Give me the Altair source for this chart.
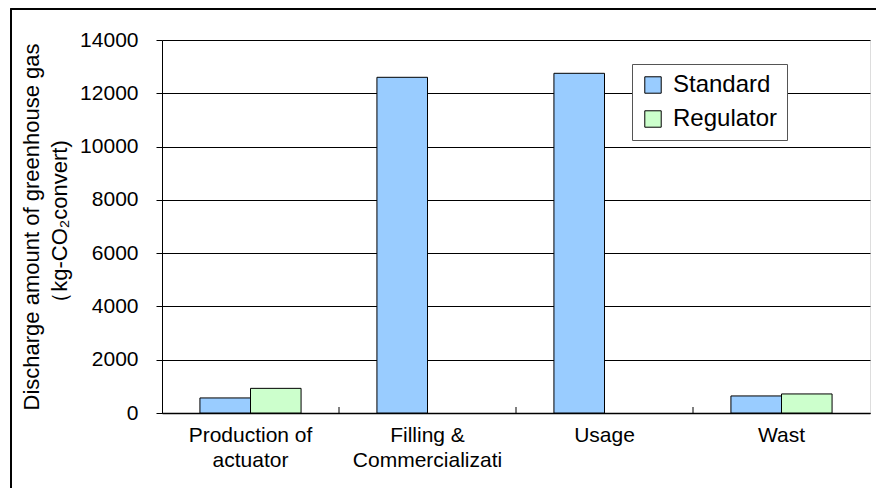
import altair as alt
import pandas as pd

categories = ["Production of\nactuator", "Filling  &\nCommercializati", "Usage", "Wast"]
series = ["Standard", "Regulator"]
standard = [565, 12600, 12750, 640]
regulator = [925, 0, 0, 715]
colors = ["#99CCFF", "#CCFFCC"]
y_ticks = [0, 2000, 4000, 6000, 8000, 10000, 12000, 14000]
y_title = ["Discharge amount of greenhouse gas", "（kg-CO₂convert)"]

rows = []
for c, s, r in zip(categories, standard, regulator):
    rows.append({"category": c, "series": "Standard", "value": s})
    rows.append({"category": c, "series": "Regulator", "value": r})
df = pd.DataFrame(rows)
df = df[df["value"] > 0]
bounds = pd.DataFrame({"category": categories[1:]})

W, H = 708, 373
FONT = "Liberation Sans"

xscale = alt.Scale(domain=categories, paddingInner=0, paddingOuter=0)

bars = alt.Chart(df).mark_bar(stroke="black", strokeWidth=1).encode(
    x=alt.X("category:N", sort=categories, scale=xscale,
            axis=alt.Axis(title=None, labelExpr="split(datum.label, '\\n')",
                          labelAngle=0, labelFontSize=21, labelColor="black",
                          labelFont=FONT, labelPadding=11, labelLineHeight=25,
                          ticks=False, domainColor="black", domainWidth=1.5)),
    xOffset=alt.XOffset("series:N", sort=series,
                        scale=alt.Scale(domain=series, paddingInner=0, paddingOuter=0.75)),
    y=alt.Y("value:Q", scale=alt.Scale(domain=[0, 14000], nice=False),
            axis=alt.Axis(values=y_ticks, format="d", title=y_title, grid=True,
                          gridColor="black", gridWidth=1, gridOpacity=1,
                          domainColor="black", tickColor="black", tickSize=6,
                          labelFontSize=21, labelColor="black", labelFont=FONT,
                          labelPadding=18, titleFont=FONT, titleFontSize=22,
                          titleFontWeight="normal", titleColor="black",
                          titleLineHeight=28, titlePadding=8)),
    color=alt.Color("series:N", sort=series,
                    scale=alt.Scale(domain=series, range=colors),
                    legend=alt.Legend(title=None, orient="none", legendX=470, legendY=24,
                                      fillColor="white", strokeColor="#555555",
                                      padding=9, symbolType="square", symbolSize=270,
                                      symbolStrokeColor="black", symbolStrokeWidth=1,
                                      symbolOpacity=1, labelFontSize=24, labelFont=FONT,
                                      labelColor="black", rowPadding=10, labelOffset=8)),
)

ticks = alt.Chart(bounds).mark_rule(color="black", strokeWidth=1).encode(
    x=alt.X("category:N", sort=categories, scale=xscale, bandPosition=0),
    y=alt.value(H),
    y2=alt.value(H - 6),
)

frame = alt.Chart(bounds).mark_rect(fill=None, stroke="black", strokeWidth=1.5).encode(
    x=alt.value(-151), x2=alt.value(900), y=alt.value(-31), y2=alt.value(600)
)

chart = alt.layer(frame, bars, ticks).properties(
    width=W, height=H,
    autosize=alt.AutoSizeParams(type="none"),
    padding={"left": 154, "top": 32, "right": 6, "bottom": 75},
).configure_view(stroke="black", strokeWidth=1).configure(background="white")

chart.save("out.html", embed_options={"renderer": "svg", "actions": False})
